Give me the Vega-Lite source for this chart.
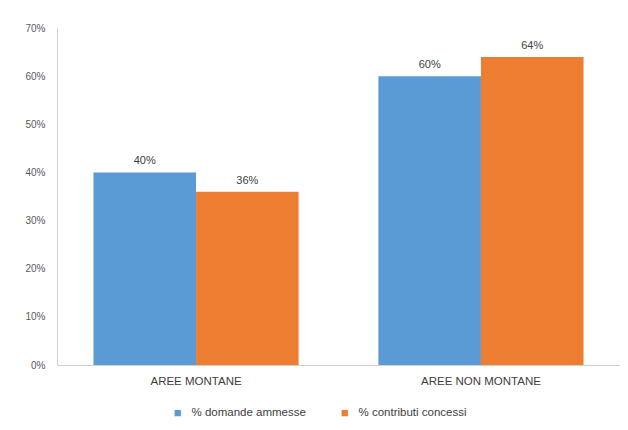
{
  "$schema": "https://vega.github.io/schema/vega-lite/v6.json",
  "width": 563,
  "height": 337,
  "autosize": {"type": "none"},
  "padding": {"left": 57, "top": 28, "right": 8, "bottom": 65},
  "background": "white",
  "config": {
    "font": "Liberation Sans",
    "view": {"stroke": null}
  },
  "data": {
    "values": [
      {"area": "AREE MONTANE", "serie": "% domande ammesse", "valore": 0.40},
      {"area": "AREE MONTANE", "serie": "% contributi concessi", "valore": 0.36},
      {"area": "AREE NON MONTANE", "serie": "% domande ammesse", "valore": 0.60},
      {"area": "AREE NON MONTANE", "serie": "% contributi concessi", "valore": 0.64}
    ]
  },
  "encoding": {
    "x": {
      "field": "area",
      "type": "nominal",
      "sort": ["AREE MONTANE", "AREE NON MONTANE"],
      "scale": {"paddingInner": 0.28, "paddingOuter": 0.128},
      "axis": {
        "title": null,
        "labelAngle": 0,
        "ticks": false,
        "domainColor": "#d0d0d0",
        "labelColor": "#404040",
        "labelFontSize": 11.5,
        "labelPadding": 10
      }
    },
    "xOffset": {
      "field": "serie",
      "sort": ["% domande ammesse", "% contributi concessi"]
    },
    "y": {
      "field": "valore",
      "type": "quantitative",
      "scale": {"domain": [0, 0.7]},
      "axis": {
        "title": null,
        "format": ".0%",
        "values": [0, 0.1, 0.2, 0.3, 0.4, 0.5, 0.6, 0.7],
        "grid": false,
        "ticks": false,
        "domainColor": "#d0d0d0",
        "labelColor": "#595959",
        "labelFontSize": 10,
        "labelPadding": 12
      }
    }
  },
  "layer": [
    {
      "mark": {"type": "bar"},
      "encoding": {
        "color": {
          "field": "serie",
          "type": "nominal",
          "sort": ["% domande ammesse", "% contributi concessi"],
          "scale": {
            "domain": ["% domande ammesse", "% contributi concessi"],
            "range": ["#5B9BD5", "#ED7D31"]
          },
          "legend": {
            "title": null,
            "orient": "none",
            "direction": "horizontal",
            "legendX": 115,
            "legendY": 379,
            "symbolType": "square",
            "symbolSize": 40,
            "labelFontSize": 11.5,
            "labelOffset": 8,
            "labelColor": "#404040",
            "columnPadding": 33
          }
        }
      }
    },
    {
      "mark": {"type": "text", "dy": -11, "fontSize": 11, "color": "#404040"},
      "encoding": {
        "text": {"field": "valore", "type": "quantitative", "format": ".0%"}
      }
    }
  ]
}
